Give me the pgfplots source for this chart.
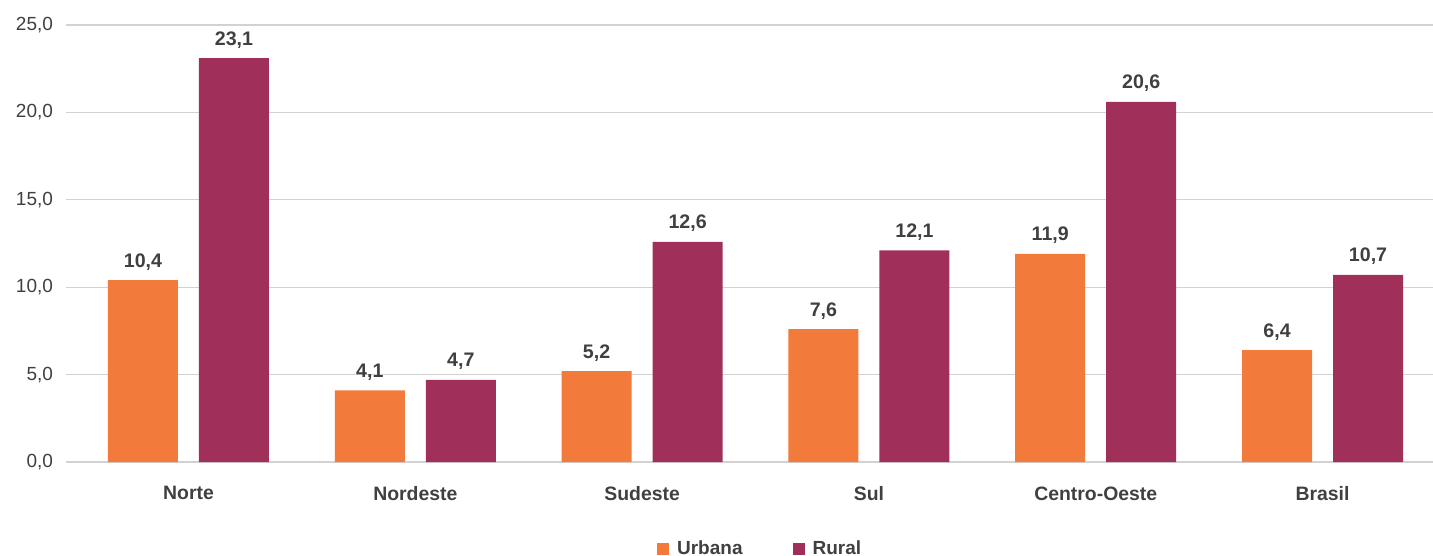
\documentclass[border=0pt]{standalone}
\usepackage{pgfplots}
\pgfplotsset{compat=1.18}
\usepackage{fontspec}
\setmainfont{Liberation Sans}
\definecolor{urbana}{RGB}{242,122,58}
\definecolor{rural}{RGB}{160,48,90}
\definecolor{txt}{RGB}{64,64,64}
\definecolor{gridc}{RGB}{210,210,210}

\begin{document}
\begin{tikzpicture}
\path[use as bounding box] (-33pt,-47pt) rectangle (683.5pt,231pt);
\begin{axis}[
    at={(0,0)}, anchor=south west,
    scale only axis,
    width=683.5pt, height=218.5pt,
    xmin=-0.540, xmax=5.487,
    ymin=0, ymax=25,
    ytick={0,5,10,15,20,25},
    xtick={0,1,2,3,4,5},
    xticklabels={Norte,Nordeste,Sudeste,Sul,Centro-Oeste,Brasil},
    xticklabel style={font=\fontsize{9.7}{11}\selectfont\bfseries, text=txt, yshift=-4.5pt},
    yticklabel style={font=\fontsize{9.5}{11}\selectfont, text=txt, xshift=-3pt},
    /pgf/number format/assume math mode=true,
    yticklabel={\pgfmathprintnumber[fixed, fixed zerofill, precision=1, use comma]{\tick}},
    tick style={draw=none},
    axis x line*=bottom,
    axis y line*=left,
    y axis line style={draw=none},
    x axis line style={draw=gridc, line width=0.8pt, -},
    ymajorgrids=true,
    grid style={gridc, line width=0.6pt},
    ybar,
    bar width=35pt,
    nodes near coords={\pgfmathprintnumber[fixed, fixed zerofill, precision=1, use comma, assume math mode=true]{\pgfplotspointmeta}},
    nodes near coords style={font=\fontsize{9.8}{11}\selectfont\bfseries, text=txt, yshift=1.5pt},
    legend style={at={(0.5085,-0.2)}, anchor=center, draw=none, font=\fontsize{9.5}{11}\selectfont\bfseries, text=txt, legend columns=2,
        /tikz/every odd column/.append style={column sep=2pt},
        /tikz/every even column/.append style={column sep=23pt}},
    legend image code/.code={\fill[#1] (0pt,-3pt) rectangle (6pt,3pt);},
]
\addplot[fill=urbana, draw=none, bar shift=-22.75pt] coordinates {(0,10.4) (1,4.1) (2,5.2) (3,7.6) (4,11.9) (5,6.4)};
\addlegendentry{Urbana}
\addplot[fill=rural, draw=none, bar shift=22.75pt] coordinates {(0,23.1) (1,4.7) (2,12.6) (3,12.1) (4,20.6) (5,10.7)};
\addlegendentry{Rural}
\end{axis}
\end{tikzpicture}
\end{document}
